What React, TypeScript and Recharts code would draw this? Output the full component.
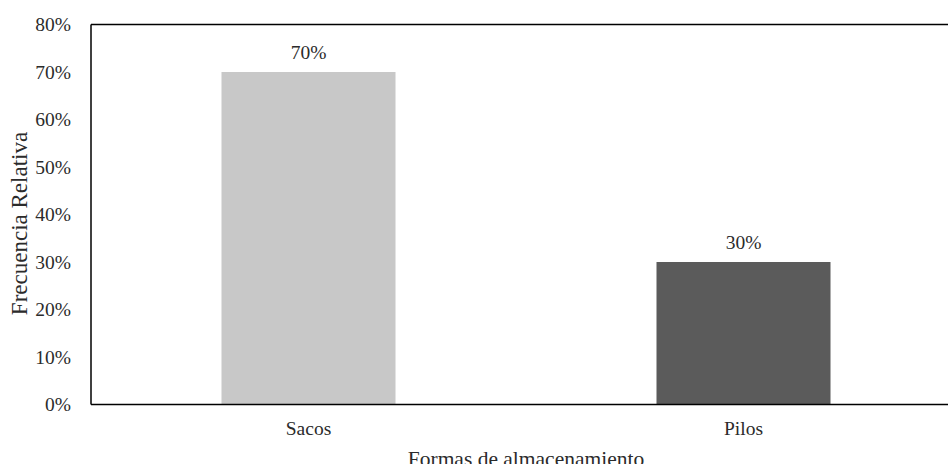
import { BarChart, Bar, XAxis, YAxis, Cell, LabelList, ReferenceLine, Label } from 'recharts';

const categories = ['Sacos', 'Pilos'];
const frecuencia = [0.7, 0.3];
const barColors = ['#c8c8c8', '#5b5b5b'];
const yTicks = [0, 0.1, 0.2, 0.3, 0.4, 0.5, 0.6, 0.7, 0.8];

const data = categories.map((name, i) => ({ name, value: frecuencia[i] }));

const pct = (v: number) => `${Math.round(v * 100)}%`;
const serif = '"Liberation Serif", "Times New Roman", serif';
const font = { fontFamily: serif, fontSize: 19.5, fill: '#2b2b2b' };

const XTick = (p: any) => (
    <text x={p.x} y={p.y + 28.5} textAnchor="middle" style={font}>{p.payload.value}</text>
);

const YTick = (p: any) => (
    <text x={p.x - 18} y={p.y} dy="0.34em" textAnchor="end" style={font}>{pct(p.payload.value)}</text>
);

const BarValue = (p: any) => (
    <text x={p.x + p.width / 2} y={p.y - 13.5} textAnchor="middle" style={font}>{pct(p.value)}</text>
);

// rotated axis title, baseline on the right edge of the glyphs
const YTitle = (p: any) => {
    const vb = p.viewBox;
    const cy = vb.y + vb.height / 2 + 9;
    return (
        <text x={27} y={cy} transform={`rotate(-90 27 ${cy})`} textAnchor="middle"
            style={{ ...font, fontSize: 23 }}>
            Frecuencia Relativa
        </text>
    );
};

export default function App() {
    // fixed so the chart can run past the right edge without adding scrollbars
    return (
        <div style={{ position: 'fixed', left: 0, top: 0, width: 948, height: 464, overflow: 'hidden', background: '#fff', fontFamily: serif }}>
            <BarChart width={980} height={464} data={data}
                margin={{ top: 24.5, right: 19, left: 0, bottom: 0 }}
                barCategoryGap="30%">
                <XAxis dataKey="name" height={59.5} tickLine={false} tickSize={0}
                    axisLine={{ stroke: '#000', strokeWidth: 1.5 }} tick={<XTick />}>
                    <Label value="Formas de almacenamiento" position="insideBottom" offset={-1.5}
                        style={{ ...font, fontSize: 21.5 }} />
                </XAxis>
                <YAxis width={91} domain={[0, 0.8]} ticks={yTicks}
                    tickLine={false} tickSize={0}
                    axisLine={{ stroke: '#000', strokeWidth: 1.5 }} tick={<YTick />}>
                    <Label content={<YTitle />} />
                </YAxis>
                <ReferenceLine y={0.8} stroke="#000" strokeWidth={1.5} />
                <Bar dataKey="value" isAnimationActive={false}>
                    {data.map((d, i) => <Cell key={d.name} fill={barColors[i]} />)}
                    <LabelList dataKey="value" content={<BarValue />} />
                </Bar>
            </BarChart>
        </div>
    );
}
